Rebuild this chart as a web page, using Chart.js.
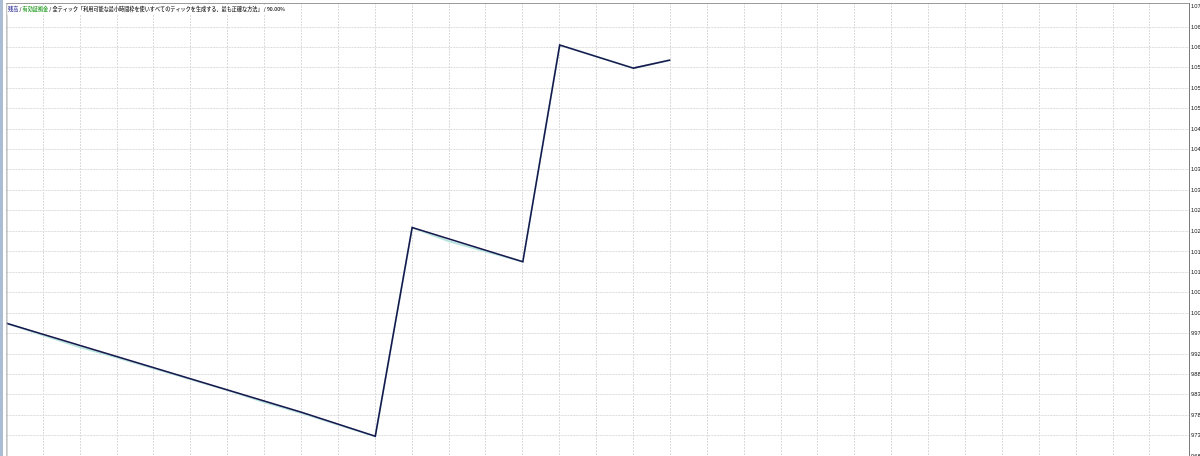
<!DOCTYPE html>
<html lang="ja">
<head>
<meta charset="UTF-8">
<title>Tester Graph</title>
<script src="https://cdn.jsdelivr.net/npm/chart.js"></script>
<style>
  html, body { margin: 0; padding: 0; background: #fff; overflow: hidden; }
  #graph { position: absolute; left: 0; top: 0; }
</style>
</head>
<body>
<canvas id="graph" width="1230" height="480"></canvas>
<script>
// balance curve: trade number -> balance
const tradeNo = [0, 8, 10, 11, 14, 15, 17, 18];
const balance = [10000, 9792, 9736, 10224, 10144, 10651, 10597, 10616];

// equity curve (light line mostly hidden under balance)
const equityNo = [0, 2, 3, 6, 7, 8, 10, 11, 12, 14, 15, 17, 18];
const equity = [10000, 9944, 9920, 9843, 9815, 9790, 9735, 10224, 10192, 10144, 10651, 10597, 10616];

// right axis ticks (labels are cut off by the window edge)
const yTicks = [9689, 9737, 9785, 9833, 9880, 9928, 9976, 10024, 10072, 10119, 10167,
                10215, 10263, 10311, 10359, 10406, 10454, 10502, 10550, 10598, 10646, 10693, 10741];
const yTickLabels = ['9689', '9737', '9785', '9833', '9880', '9928', '9976', '10024', '10072', '10119', '10167',
                     '10215', '10263', '10311', '10359', '10406', '10454', '10502', '10550', '10598', '10646', '10693', '10741'];

const headerParts = [
  { text: '残高', color: '#1f1f8c' },
  { text: ' / ', color: '#111' },
  { text: '有効証拠金', color: '#1e9a1e' },
  { text: ' / 全ティック「利用可能な最小時間枠を使いすべてのティックを生成する、最も正確な方法」 / 90.00%', color: '#111' }
];

const GRID = '#dcdcdc';
const CJK = "'Noto Sans CJK JP', sans-serif";

// window frame + header text
const framePlugin = {
  id: 'frame',
  afterDraw(chart) {
    const ctx = chart.ctx;
    const a = chart.chartArea;
    ctx.save();
    // left window strip
    ctx.fillStyle = '#aabdd4';
    ctx.fillRect(0, 0, 3, chart.height);
    ctx.fillStyle = '#fff';
    ctx.fillRect(3, 0, a.left - 3, chart.height);
    ctx.strokeStyle = '#9c9c9c';
    ctx.lineWidth = 1;
    ctx.beginPath();
    ctx.moveTo(a.left + 0.5, a.top);
    ctx.lineTo(a.left + 0.5, chart.height);
    ctx.moveTo(a.left, a.top + 0.5);
    ctx.lineTo(a.right, a.top + 0.5);
    ctx.stroke();

    // header
    ctx.font = '500 10px ' + CJK;
    const full = headerParts.map(p => p.text).join('');
    const size = 10 * 277 / ctx.measureText(full).width;
    ctx.font = '500 ' + size.toFixed(2) + 'px ' + CJK;
    const w = ctx.measureText(full).width;
    ctx.fillStyle = '#fff';
    ctx.fillRect(a.left + 1, a.top + 2, w + 4, 10);
    ctx.textBaseline = 'middle';
    let x = 8;
    headerParts.forEach(p => {
      ctx.fillStyle = p.color;
      ctx.fillText(p.text, x, 9.5);
      x += ctx.measureText(p.text).width;
    });
    ctx.restore();
  }
};

new Chart(document.getElementById('graph'), {
  type: 'line',
  data: {
    datasets: [
      {
        label: 'Balance',
        data: tradeNo.map((t, i) => ({ x: t, y: balance[i] })),
        borderColor: '#18184e',
        borderWidth: 1.6,
        pointRadius: 0,
        tension: 0
      },
      {
        label: 'Equity',
        data: equityNo.map((t, i) => ({ x: t, y: equity[i] })),
        borderColor: '#b8e4de',
        borderWidth: 2,
        pointRadius: 0,
        tension: 0
      }
    ]
  },
  options: {
    responsive: false,
    animation: false,
    events: [],
    layout: { padding: { left: 6.4, top: 3, right: 0, bottom: 0 } },
    plugins: { legend: { display: false }, tooltip: { enabled: false } },
    scales: {
      x: {
        type: 'linear',
        min: 0,
        max: 32.06,
        ticks: { display: false, stepSize: 1 },
        grid: {
          drawTicks: false,
          color: ctx => (ctx.tick && ctx.tick.value > 0 && ctx.tick.value < 32) ? GRID : 'rgba(0,0,0,0)'
        },
        border: { display: false, dash: [2, 1] },
        afterFit: s => { s.height = 0; s.paddingLeft = 0; s.paddingRight = 0; }
      },
      y: {
        type: 'linear',
        position: 'right',
        min: 9633.4,
        max: 10749.4,
        afterBuildTicks: s => { s.ticks = yTicks.map(v => ({ value: v })); },
        ticks: {
          autoSkip: false,
          padding: 2,
          color: '#222',
          font: { family: "'Liberation Sans', sans-serif", size: 5.8 },
          callback: (v, i) => yTickLabels[i]
        },
        grid: {
          drawTicks: false,
          color: ctx => (ctx.tick && ctx.tick.value < 10700) ? GRID : 'rgba(0,0,0,0)'
        },
        border: { display: true, color: '#7c7c7c', width: 1, dash: [2, 1] },
        afterFit: s => { s.width = 41; s.paddingTop = 0; s.paddingBottom = 0; }
      }
    }
  },
  plugins: [framePlugin]
});
</script>
</body>
</html>
